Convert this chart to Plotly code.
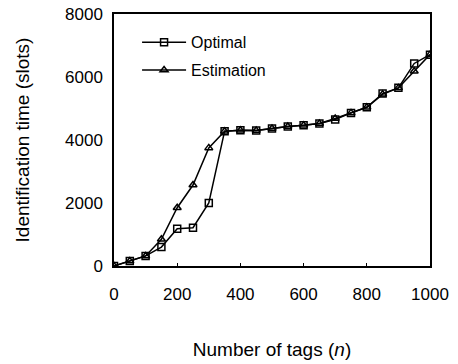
import plotly.graph_objects as go

n_tags = [0, 50, 100, 150, 200, 250, 300, 350, 400, 450, 500, 550, 600, 650, 700, 750, 800, 850, 900, 950, 1000]
optimal = [0, 160, 320, 600, 1180, 1215, 2000, 4280, 4310, 4300, 4365, 4430, 4470, 4525, 4650, 4860, 5040, 5475, 5655, 6430, 6710]
estimation = [0, 160, 320, 850, 1850, 2570, 3750, 4280, 4310, 4300, 4365, 4430, 4470, 4525, 4680, 4860, 5040, 5450, 5655, 6180, 6710]

x_ticks = [0, 200, 400, 600, 800, 1000]
y_ticks = [0, 2000, 4000, 6000, 8000]

FONT = "Liberation Sans, Arial, sans-serif"

fig = go.Figure()
fig.add_trace(go.Scatter(
    x=n_tags, y=optimal, name="Optimal", mode="lines+markers", legendgroup="a",
    line=dict(color="black", width=1.5),
    marker=dict(symbol="square-open", size=7, color="black", line=dict(width=1.5)),
))
fig.add_trace(go.Scatter(
    x=n_tags, y=estimation, name="Estimation", mode="lines+markers", legendgroup="b",
    line=dict(color="black", width=1.5),
    marker=dict(symbol="triangle-up-open", size=7, color="black", line=dict(width=1.5)),
))

fig.update_layout(
    width=458, height=364,
    margin=dict(l=114, r=28, t=14, b=98),
    paper_bgcolor="white", plot_bgcolor="white",
    font=dict(family=FONT, color="black", size=16),
    showlegend=True,
    legend=dict(x=0.073, y=0.955, xanchor="left", yanchor="top",
                bgcolor="rgba(0,0,0,0)", font=dict(size=16), itemwidth=44,
                tracegroupgap=4),
    xaxis=dict(range=[0, 1000], tickvals=x_ticks, showgrid=False, zeroline=False,
               showline=True, linecolor="black", linewidth=1.5, mirror=True,
               ticks="inside", ticklen=3, tickcolor="black", tickwidth=1,
               tickfont=dict(size=17), ticklabelstandoff=12, automargin=False,
               title=dict(text="Number of tags (<i>n</i>)", font=dict(size=19), standoff=40)),
    yaxis=dict(range=[0, 8000], tickvals=y_ticks, showgrid=False, zeroline=False,
               showline=True, linecolor="black", linewidth=1.5, mirror=True,
               ticks="", tickfont=dict(size=17), ticklabelstandoff=6, automargin=False,
               ticklabeloverflow="allow",
               title=dict(text="Identification time (slots)", font=dict(size=19), standoff=30)),
)

# remove the browser's default 8px body margin so the figure fills the window
fig.write_html("out.html", config={"displayModeBar": False},
               post_script="document.body.style.margin='0';")
